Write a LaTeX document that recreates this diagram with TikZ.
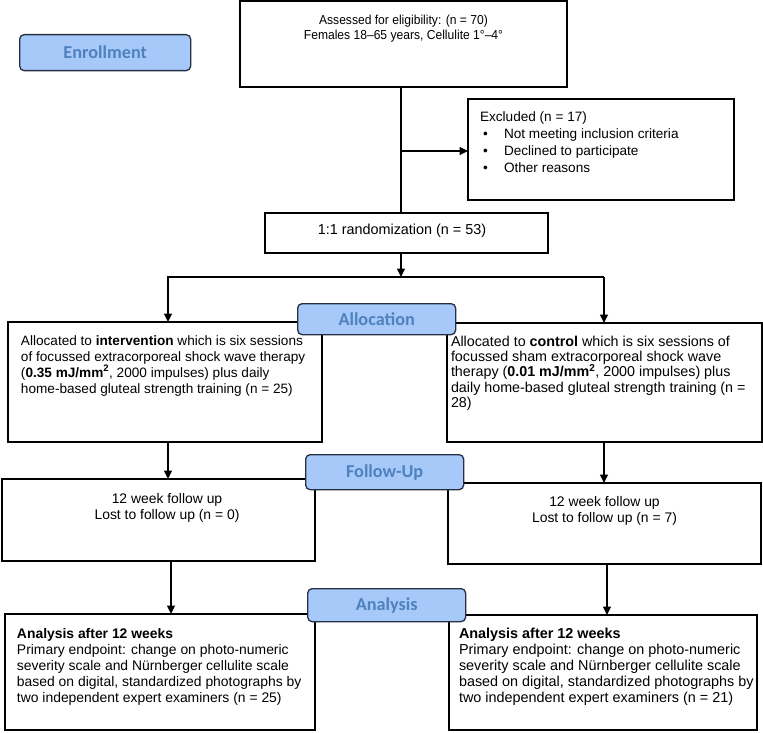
\documentclass[tikz,border=0pt]{standalone}
\usepackage{fontspec}
\setmainfont{Liberation Sans}
\newfontfamily\lblfont{Carlito}
\newfontfamily\narrowfont[FakeStretch=0.93]{Liberation Sans}
\usetikzlibrary{arrows.meta}
\definecolor{lblfill}{RGB}{166,201,250}
\definecolor{lbltext}{RGB}{79,129,189}
\definecolor{lbldraw}{RGB}{38,48,66}
% W H leftpad innerW firstbaseline text
\newcommand\tb[6]{\parbox[c][#2][t]{#1}{\hspace*{#3}\parbox[t]{#4}{\rule{0pt}{#5}#6}}}
\newcommand\fs[2]{\fontsize{#1}{#2}\selectfont}
\begin{document}
\begin{tikzpicture}[x=1pt,y=-1pt,
  box/.style={draw, line width=1.3pt, inner sep=0pt, outer sep=0pt, anchor=north west,
    font=\fontsize{13.6}{16}\selectfont},
  lbl/.style={draw=lbldraw, fill=lblfill, line width=1.3pt, rounded corners=4.5pt,
    anchor=north west, inner sep=0pt, text=lbltext,
    font=\lblfont\bfseries\fontsize{18.2}{20}\selectfont},
  conn/.style={line width=1.5pt},
  arr/.style={line width=1.5pt, -{Triangle[length=8.5pt,width=8pt]}}]
\fill[white] (0,0) rectangle (763,733);
\useasboundingbox (0,0) rectangle (763,733);

% boxes
\node[box] (assess) at (240,1) {\tb{327pt}{86pt}{0pt}{327pt}{24pt}{\centering\narrowfont\fs{13}{15}Assessed for eligibility: (n = 70)\\ Females 18–65 years, Cellulite 1°–4°}};
\node[box] (excl) at (468,99) {\tb{266pt}{101pt}{12pt}{250pt}{23pt}{\raggedright\fs{13.6}{16.7}Excluded (n = 17)\\
 \hspace*{3pt}\makebox[21pt][l]{•}Not meeting inclusion criteria\\
 \hspace*{3pt}\makebox[21pt][l]{•}Declined to participate\\
 \hspace*{3pt}\makebox[21pt][l]{•}Other reasons}};
\node[box] (rand) at (265,213) {\tb{283pt}{40pt}{0pt}{274pt}{21pt}{\centering\fs{14.4}{16}1:1 randomization (n = 53)}};
\node[box] (interv) at (8,322) {\tb{314pt}{120pt}{13pt}{300pt}{23pt}{\raggedright\fs{13.6}{16}Allocated to \textbf{intervention} which is six sessions\\ of focussed extracorporeal shock wave therapy\\ (\textbf{0.35 mJ/mm\textsuperscript{2}}, 2000 impulses) plus daily\\ home-based gluteal strength training (n = 25)}};
\node[box] (control) at (447,323) {\tb{315pt}{119pt}{4pt}{309pt}{23pt}{\raggedright\fs{14.3}{15.4}Allocated to \textbf{control} which is six sessions of\\ focussed sham extracorporeal shock wave\\ therapy (\textbf{0.01 mJ/mm\textsuperscript{2}}, 2000 impulses) plus\\ daily home-based gluteal strength training (n =\\ 28)}};
\node[box] (fu1) at (2,479) {\tb{313pt}{82pt}{17pt}{296pt}{24pt}{\centering\fs{13.9}{16}12 week follow up\\ Lost to follow up (n = 0)}};
\node[box] (fu2) at (448,483) {\tb{313pt}{81pt}{0pt}{313pt}{23pt}{\centering\fs{13.9}{16}12 week follow up\\ Lost to follow up (n = 7)}};
\node[box] (an1) at (5,614) {\tb{310pt}{116pt}{12pt}{297pt}{24pt}{\raggedright\fs{13.9}{16}\textbf{Analysis after 12 weeks}\\ Primary endpoint: change on photo-numeric\\ severity scale and Nürnberger cellulite scale\\ based on digital, standardized photographs by\\ two independent expert examiners (n = 25)}};
\node[box] (an2) at (449,615) {\tb{308pt}{115pt}{10pt}{298pt}{23pt}{\raggedright\fs{14.4}{16.2}\textbf{Analysis after 12 weeks}\\ Primary endpoint: change on photo-numeric\\ severity scale and Nürnberger cellulite scale\\ based on digital, standardized photographs by\\ two independent expert examiners (n = 21)}};

% connectors
\coordinate (c1) at (401,151);
\coordinate (c2) at (401,277);
\coordinate (cl) at (168,277);
\coordinate (cr) at (604,277);
\coordinate (d1) at (171,600);
\coordinate (d2) at (607,600);
\draw[conn] (assess.south -| c1) -- (rand.north -| c1);
\draw[arr] (c1) -- (c1 -| excl.west);
\draw[arr] (rand.south -| c2) -- (c2);
\draw[arr] (cr) -- (cl) -- (interv.north -| cl);
\draw[arr] (cr) -- (control.north -| cr);
\draw[arr] (interv.south -| cl) -- (fu1.north -| cl);
\draw[arr] (control.south -| cr) -- (fu2.north -| cr);
\draw[arr] (fu1.south -| d1) -- (an1.north -| d1);
\draw[arr] (fu2.south -| d2) -- (an2.north -| d2);

% stage labels
\node[lbl, minimum width=171pt, minimum height=36pt] (enr) at (19,34) {Enrollment};
\node[lbl, minimum width=158pt, minimum height=31pt] (alloc) at (297,303) {Allocation};
\node[lbl, minimum width=158pt, minimum height=35pt] (follow) at (305,454) {Follow-Up};
\node[lbl, minimum width=158pt, minimum height=33pt] (anal) at (307,588) {Analysis};
\end{tikzpicture}
\end{document}
